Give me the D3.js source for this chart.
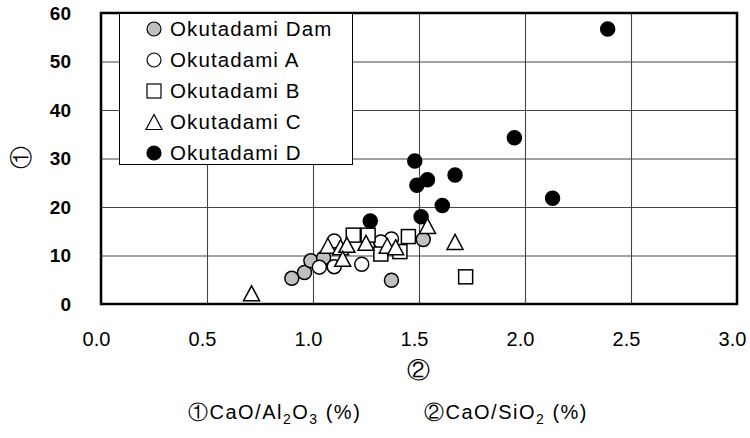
<!DOCTYPE html>
<html lang="ja">
<head>
<meta charset="UTF-8">
<title>Okutadami</title>
<script src="https://cdn.jsdelivr.net/npm/d3@7"></script>
<style>
  body { margin: 0; background: #fff; }
  svg text { font-family: "Liberation Sans", Arial, sans-serif; fill: #000; }
</style>
</head>
<body>
<div id="chart"></div>
<script>
// values
const damX = [0.90, 0.96, 0.99, 1.05, 1.32, 1.37, 1.52];
const damY = [5.3, 6.5, 8.9, 9.5, 12.7, 4.9, 13.3];
const aX = [1.03, 1.10, 1.23, 1.37, 1.10, 1.32];
const aY = [7.6, 7.7, 8.2, 13.4, 13.0, 12.8];
const bX = [1.19, 1.26, 1.32, 1.41, 1.45, 1.72];
const bY = [14.2, 14.2, 10.3, 10.8, 13.9, 5.6];
const cX = [0.71, 1.07, 1.13, 1.16, 1.25, 1.14, 1.35, 1.39, 1.54, 1.67];
const cY = [2.0, 11.8, 11.5, 12.0, 12.4, 9.1, 11.8, 11.5, 15.9, 12.6];
const dX = [1.27, 1.48, 1.49, 1.51, 1.54, 1.61, 1.67, 1.95, 2.13, 2.39];
const dY = [17.1, 29.5, 24.5, 18.0, 25.6, 20.3, 26.6, 34.3, 21.8, 56.7];
const seriesNames = ["Okutadami Dam", "Okutadami A", "Okutadami B", "Okutadami C", "Okutadami D"];
const xTicks = [0, 0.5, 1.0, 1.5, 2.0, 2.5, 3.0];
const yTicks = [0, 10, 20, 30, 40, 50, 60];

const w = 750, h = 438;
const pLeft = 101, pRight = 737, pTop = 13, pBottom = 304;

const x = d3.scaleLinear().domain([0, 3]).range([pLeft, pRight]);
const y = d3.scaleLinear().domain([0, 60]).range([pBottom, pTop]);

const svg = d3.select("#chart").append("svg")
  .attr("width", w).attr("height", h);

// grid
svg.append("g")
  .attr("transform", "translate(0," + pBottom + ")")
  .call(d3.axisBottom(x).tickValues(xTicks).tickSize(-(pBottom - pTop)).tickFormat(""))
  .call(g => g.select(".domain").remove())
  .selectAll("line").attr("stroke", "#444").attr("stroke-width", 1.1);
svg.append("g")
  .attr("transform", "translate(" + pLeft + ",0)")
  .call(d3.axisLeft(y).tickValues(yTicks).tickSize(-(pRight - pLeft)).tickFormat(""))
  .call(g => g.select(".domain").remove())
  .selectAll("line").attr("stroke", "#444").attr("stroke-width", 1.1);

// frame
svg.append("rect")
  .attr("x", pLeft).attr("y", pTop)
  .attr("width", pRight - pLeft).attr("height", pBottom - pTop)
  .attr("fill", "none").attr("stroke", "#000").attr("stroke-width", 2.5);

// tick labels
svg.append("g")
  .attr("transform", "translate(-5," + pBottom + ")")
  .call(d3.axisBottom(x).tickValues(xTicks).tickSize(0).tickPadding(28).tickFormat(d3.format(".1f")))
  .call(g => g.select(".domain").remove())
  .selectAll("text")
  .attr("font-size", 20)
  .attr("font-family", "Liberation Sans, Arial, sans-serif");
svg.append("g")
  .attr("transform", "translate(" + pLeft + ",0)")
  .call(d3.axisLeft(y).tickValues(yTicks).tickSize(0).tickPadding(30))
  .call(g => g.select(".domain").remove())
  .selectAll("text")
  .attr("font-size", 19)
  .attr("font-weight", "bold")
  .attr("font-family", "Liberation Sans, Arial, sans-serif");

// markers
const tri = "M0,-8.5L8,6.5L-8,6.5Z";
function drawCircles(xs, ys, fill) {
  svg.append("g").selectAll("circle")
    .data(xs.map((v, i) => [v, ys[i]]))
    .join("circle")
    .attr("cx", d => x(d[0])).attr("cy", d => y(d[1]))
    .attr("r", 7)
    .attr("fill", fill).attr("stroke", "#000").attr("stroke-width", 1.5);
}
function drawSquares(xs, ys) {
  svg.append("g").selectAll("rect")
    .data(xs.map((v, i) => [v, ys[i]]))
    .join("rect")
    .attr("x", d => x(d[0]) - 7).attr("y", d => y(d[1]) - 7)
    .attr("width", 14).attr("height", 14)
    .attr("fill", "#fff").attr("stroke", "#000").attr("stroke-width", 1.5);
}
function drawTriangles(xs, ys) {
  svg.append("g").selectAll("path")
    .data(xs.map((v, i) => [v, ys[i]]))
    .join("path")
    .attr("d", tri)
    .attr("transform", d => "translate(" + x(d[0]) + "," + y(d[1]) + ")")
    .attr("fill", "#fff").attr("stroke", "#000").attr("stroke-width", 1.5);
}
drawCircles(damX, damY, "#c0c0c0");
drawCircles(aX, aY, "#fff");
drawSquares(bX, bY);
drawCircles(dX, dY, "#000");
drawTriangles(cX, cY);

// legend
const lg = svg.append("g");
lg.append("rect")
  .attr("x", 119.5).attr("y", 13.5).attr("width", 233).attr("height", 151)
  .attr("fill", "#fff").attr("stroke", "#000").attr("stroke-width", 1);
const rowY = [29, 60, 91, 122, 153];
seriesNames.forEach((name, i) => {
  const cy = rowY[i], cx = 154;
  if (i === 0 || i === 1 || i === 4) {
    lg.append("circle").attr("cx", cx).attr("cy", cy).attr("r", 7)
      .attr("fill", i === 0 ? "#c0c0c0" : (i === 4 ? "#000" : "#fff"))
      .attr("stroke", "#000").attr("stroke-width", 1.2);
  } else if (i === 2) {
    lg.append("rect").attr("x", cx - 7).attr("y", cy - 7).attr("width", 14).attr("height", 14)
      .attr("fill", "#fff").attr("stroke", "#000").attr("stroke-width", 1.2);
  } else {
    lg.append("path").attr("d", tri).attr("transform", "translate(" + cx + "," + (cy + 1) + ")")
      .attr("fill", "#fff").attr("stroke", "#000").attr("stroke-width", 1.2);
  }
  lg.append("text").attr("x", 170).attr("y", cy).attr("dy", "0.36em")
    .attr("font-size", 20.5).attr("letter-spacing", 1.1).text(name);
});

// axis titles
svg.append("text")
  .attr("transform", "translate(21,157) rotate(-90)")
  .attr("text-anchor", "middle").attr("dy", "0.36em")
  .attr("font-family", "Noto Sans CJK JP").attr("font-size", 23)
  .text("①");
svg.append("text")
  .attr("x", 418).attr("y", 370).attr("dy", "0.36em")
  .attr("text-anchor", "middle")
  .attr("font-family", "Noto Sans CJK JP").attr("font-size", 23)
  .text("②");

// footnote
const note = svg.append("text")
  .attr("y", 419)
  .attr("font-family", "Noto Sans CJK JP").attr("font-size", 20)
  .attr("letter-spacing", 1.5);
function addPart(t, x0) {
  const el = note.append("tspan");
  if (x0 !== undefined) el.attr("x", x0);
  return el.text(t);
}
addPart("①CaO/Al", 188);
note.append("tspan").attr("font-size", 14).attr("dy", 5).text("2");
note.append("tspan").attr("dy", -5).text("O");
note.append("tspan").attr("font-size", 14).attr("dy", 5).text("3");
note.append("tspan").attr("dy", -5).text(" (%)");
addPart("②CaO/SiO", 424);
note.append("tspan").attr("font-size", 14).attr("dy", 5).text("2");
note.append("tspan").attr("dy", -5).text(" (%)");
</script>
</body>
</html>
